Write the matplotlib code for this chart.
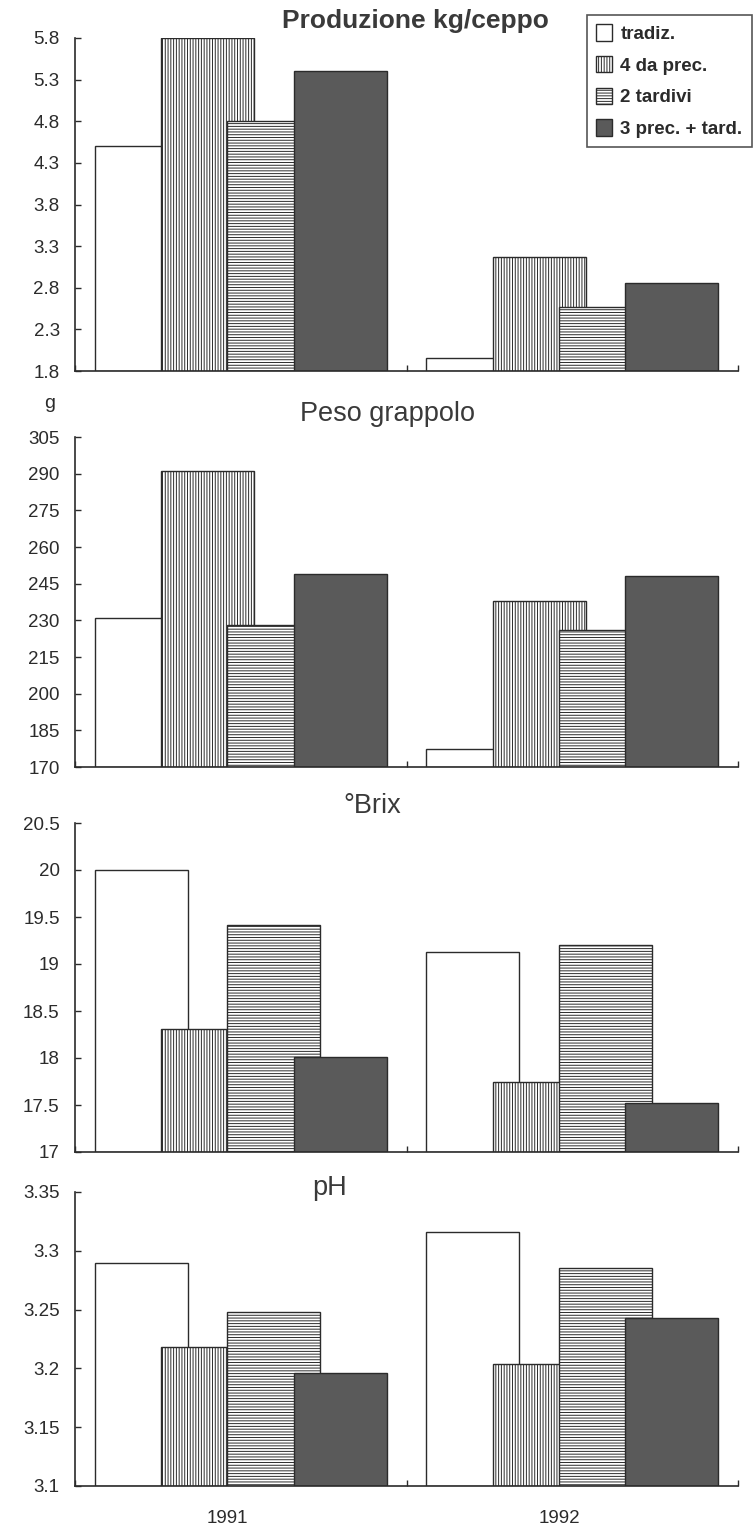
import matplotlib.pyplot as plt
import numpy as np

plt.rcParams['font.family'] = ['Liberation Sans', 'DejaVu Sans']
plt.rcParams['hatch.linewidth'] = 0.7

years = ['1991', '1992']
series = ['tradiz.', '4 da prec.', '2 tardivi', '3 prec. + tard.']

# values per series, [1991, 1992]
prod_kg = [[4.50, 1.96], [5.80, 3.17], [4.80, 2.57], [5.40, 2.86]]
peso_g = [[231, 177.5], [291, 238], [228, 226], [249, 248]]
brix = [[20.0, 19.13], [18.31, 17.74], [19.42, 19.20], [18.01, 17.52]]
ph = [[3.290, 3.316], [3.218, 3.204], [3.248, 3.285], [3.196, 3.243]]

prod_ticks = [1.8, 2.3, 2.8, 3.3, 3.8, 4.3, 4.8, 5.3, 5.8]
peso_ticks = [170, 185, 200, 215, 230, 245, 260, 275, 290, 305]
brix_ticks = [17, 17.5, 18, 18.5, 19, 19.5, 20, 20.5]
ph_ticks = [3.1, 3.15, 3.2, 3.25, 3.3, 3.35]

ink = '#2b2b2b'
styles = [
    dict(color='white', hatch=None),
    dict(color='white', hatch='||||||'),
    dict(color='white', hatch='------'),
    dict(color='#5a5a5a', hatch=None),
]

fig = plt.figure(figsize=(7.53, 15.31), dpi=100)
W, H = 753.0, 1531.0
left = 75 / W
width = (738 - 75) / W

# (top px, bottom px) of each panel
boxes = [(38, 371), (437, 767), (823, 1152), (1192, 1486)]
panels = [
    (prod_kg, prod_ticks, ['%.1f' % t for t in prod_ticks]),
    (peso_g, peso_ticks, ['%d' % t for t in peso_ticks]),
    (brix, brix_ticks, ['%g' % t for t in brix_ticks]),
    (ph, ph_ticks, ['%g' % t for t in ph_ticks]),
]

x = np.arange(len(years))
step = 0.2
bw = 0.28
axes = []
for (top, bot), (vals, ticks, labels) in zip(boxes, panels):
    ax = fig.add_axes([left, 1 - bot / H, width, (bot - top) / H])
    base = ticks[0]
    for i, (v, st) in enumerate(zip(vals, styles)):
        ax.bar(x + (i - 1.5) * step, np.array(v) - base, bw, bottom=base,
               color=st['color'], hatch=st['hatch'], edgecolor=ink,
               linewidth=1.0, label=series[i], zorder=2 + i)
    ax.set_xlim(-0.5, 1.5)
    ax.set_ylim(ticks[0], ticks[-1])
    ax.set_yticks(ticks)
    ax.set_yticklabels(labels)
    ax.set_xticks([-0.5, 0.5, 1.5])
    ax.set_xticklabels([])
    ax.tick_params(axis='x', direction='in', length=4, width=1, color=ink)
    ax.tick_params(axis='y', direction='in', length=4, width=1, color=ink,
                   labelsize=13.5, labelcolor=ink, pad=11)
    for s in ['top', 'right']:
        ax.spines[s].set_visible(False)
    for s in ['left', 'bottom']:
        ax.spines[s].set_color(ink)
        ax.spines[s].set_linewidth(1.2)
        ax.spines[s].set_zorder(10)
    axes.append(ax)

# year labels under the last panel
for xi, yr in zip(x, years):
    axes[-1].text(xi - 0.04, -0.11, yr, transform=axes[-1].get_xaxis_transform(),
                  ha='center', va='center', fontsize=13.5, color=ink)

fig.text(415 / W, 1 - 21 / H, 'Produzione kg/ceppo', ha='center', va='center',
         fontsize=19, fontweight='bold', color='#3a3a3a')
fig.text(387 / W, 1 - 414 / H, 'Peso grappolo', ha='center', va='center',
         fontsize=19.5, color='#3a3a3a')
fig.text(372 / W, 1 - 806 / H, '°Brix', ha='center', va='center',
         fontsize=19.5, color='#3a3a3a')
fig.text(330 / W, 1 - 1188 / H, 'pH', ha='center', va='center',
         fontsize=19.5, color='#3a3a3a')
fig.text(50 / W, 1 - 404 / H, 'g', ha='center', va='center',
         fontsize=14, color=ink)

handles, labs = axes[0].get_legend_handles_labels()
leg = fig.legend(handles, labs, loc='upper right',
                 bbox_to_anchor=(752 / W, 1 - 15 / H),
                 fontsize=13.5, frameon=True, fancybox=False,
                 handlelength=0.85, handleheight=0.95, handletextpad=0.45,
                 labelspacing=0.7, borderpad=0.5, borderaxespad=0)
leg.get_frame().set_edgecolor(ink)
leg.get_frame().set_linewidth(1.2)
for t in leg.get_texts():
    t.set_fontweight('bold')
    t.set_color(ink)

fig.savefig('out.png', dpi=100)
